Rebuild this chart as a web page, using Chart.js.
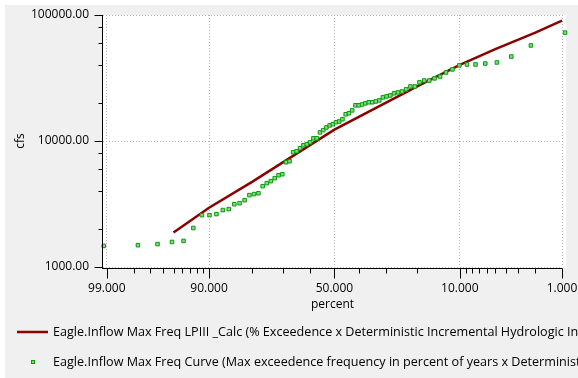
<!DOCTYPE html>
<html><head><meta charset="utf-8">
<script src="https://cdn.jsdelivr.net/npm/chart.js@4.4.1/dist/chart.umd.min.js"></script>
<style>html,body{margin:0;padding:0;background:#fff;}canvas{display:block;}</style>
</head><body>
<canvas id="c" width="578" height="378"></canvas>
<script>
// ---------- data ----------
const SERIES_LABELS = [
  'Eagle.Inflow Max Freq LPIII _Calc (% Exceedence x Deterministic Incremental Hydrologic Inflow)',
  'Eagle.Inflow Max Freq Curve (Max exceedence frequency in percent of years x Deterministic Incremental Hydrologic Inflow)'
];
const X_TITLE = 'percent';
const Y_TITLE = 'cfs';

// computed LPIII curve
const CURVE_PERCENT = [95, 90, 80, 50, 20, 10, 5, 2, 1];
const CURVE_CFS     = [1880, 2950, 4740, 12300, 27000, 40200, 53500, 72500, 90300];

// observed annual maxima (plotting position %, cfs)
const OBS_PERCENT = [
  99.08, 97.77, 96.47, 95.16, 93.85, 92.54, 91.23, 89.92, 88.61, 87.30,
  86.00, 84.69, 83.38, 82.07, 80.76, 79.45, 78.14, 76.83, 75.52, 74.21,
  72.91, 71.60, 70.29, 68.98, 67.67, 66.36, 65.05, 63.74, 62.43, 61.13,
  59.82, 58.51, 57.20, 55.89, 54.58, 53.27, 51.96, 50.65, 49.35, 48.04,
  46.73, 45.42, 44.11, 42.80, 41.49, 40.18, 38.87, 37.57, 36.26, 34.95,
  33.64, 32.33, 31.02, 29.71, 28.40, 27.09, 25.79, 24.48, 23.17, 21.86,
  20.55, 19.24, 17.93, 16.62, 15.31, 14.01, 12.70, 11.39, 10.08, 8.77,
  7.46, 6.15, 4.84, 3.53, 2.23, 0.92
];
const OBS_CFS = [
  1470, 1490, 1520, 1580, 1610, 2040, 2580, 2580, 2630, 2830,
  2880, 3150, 3210, 3390, 3720, 3790, 3850, 4380, 4630, 4800,
  5070, 5350, 5450, 6780, 6910, 8140, 8290, 8760, 9240, 9420,
  9770, 10500, 10500, 11700, 12200, 12800, 13300, 13600, 14100, 14300,
  14900, 16300, 16600, 17500, 19200, 19200, 19500, 19900, 20300, 20300,
  20600, 21000, 22200, 22600, 23000, 23900, 24300, 24700, 25700, 27100,
  27100, 29200, 30200, 30200, 31400, 32500, 35000, 37000, 39800, 40500,
  40500, 41200, 42000, 46800, 57300, 72500
];

// axis ticks
const X_MAJOR = [99, 90, 50, 10, 1];
const X_MAJOR_LABELS = ['99.000', '90.000', '50.000', '10.000', '1.000'];
const X_MINOR = [98, 97, 96, 95, 94, 93, 92, 91, 80, 70, 60, 40, 30, 20, 9, 8, 7, 6, 5, 4, 3, 2];
const X_LEFT_PERCENT = 99.1;
const X_RIGHT_PERCENT = 1;
const Y_MAJOR = [1000, 10000, 100000];
const Y_MAJOR_LABELS = ['1000.00', '10000.00', '100000.00'];
const Y_MINOR = [2000, 4000, 6000, 8000, 20000, 40000, 60000, 80000];

// ---------- normal probability helpers (scale transform) ----------
function probit(p) {
  const a=[-3.969683028665376e+01,2.209460984245205e+02,-2.759285104469687e+02,1.383577518672690e+02,-3.066479806614716e+01,2.506628277459239e+00];
  const b=[-5.447609879822406e+01,1.615858368580409e+02,-1.556989798598866e+02,6.680131188771972e+01,-1.328068155288572e+01];
  const c=[-7.784894002430293e-03,-3.223964580411365e-01,-2.400758277161838e+00,-2.549732539343734e+00,4.374664141464968e+00,2.938163982698783e+00];
  const d=[7.784695709041462e-03,3.224671290700398e-01,2.445134137142996e+00,3.754408661907416e+00];
  const pl = 0.02425, ph = 1 - pl;
  let q, r;
  if (p < pl) { q = Math.sqrt(-2*Math.log(p)); return (((((c[0]*q+c[1])*q+c[2])*q+c[3])*q+c[4])*q+c[5])/((((d[0]*q+d[1])*q+d[2])*q+d[3])*q+1); }
  if (p <= ph) { q = p - 0.5; r = q*q; return (((((a[0]*r+a[1])*r+a[2])*r+a[3])*r+a[4])*r+a[5])*q/(((((b[0]*r+b[1])*r+b[2])*r+b[3])*r+b[4])*r+1); }
  q = Math.sqrt(-2*Math.log(1-p)); return -(((((c[0]*q+c[1])*q+c[2])*q+c[3])*q+c[4])*q+c[5])/((((d[0]*q+d[1])*q+d[2])*q+d[3])*q+1);
}
function normCdf(z) {
  const t = 1/(1+0.3275911*Math.abs(z)/Math.SQRT2);
  const y = 1 - (((((1.061405429*t-1.453152027)*t)+1.421413741)*t-0.284496736)*t+0.254829592)*t*Math.exp(-z*z/2);
  return z >= 0 ? 0.5*(1+y) : 0.5*(1-y);
}
const zOf = pct => probit(1 - pct/100);

// ---------- custom probability (exceedance %) scale ----------
class ProbabilityScale extends Chart.Scale {
  determineDataLimits() {
    this.min = this.options.leftPercent;
    this.max = this.options.rightPercent;
  }
  buildTicks() {
    return X_MAJOR.concat(X_MINOR).sort((p, q) => q - p)
      .map(v => ({ value: v, major: X_MAJOR.includes(v) }));
  }
  configure() {
    super.configure();
    this._uL = zOf(this.min);
    this._uR = zOf(this.max);
  }
  getPixelForValue(v) {
    return this.getPixelForDecimal((zOf(v) - this._uL) / (this._uR - this._uL));
  }
  getValueForPixel(px) {
    const u = this._uL + this.getDecimalForPixel(px) * (this._uR - this._uL);
    return 100 * (1 - normCdf(u));
  }
  getLabelForValue(v) { return String(v); }
}
ProbabilityScale.id = 'probability';
ProbabilityScale.defaults = {};
Chart.register(ProbabilityScale);

// ---------- styling ----------
const FONT = '"Open Sans", "Noto Sans", sans-serif';
const LINE_COLOR = '#8b0000';
const PT_BORDER = '#00a000';
const PT_FILL = '#90d090';
const GRID_COLOR = '#b4b4b4';

Chart.defaults.font.family = FONT;
Chart.defaults.font.size = 12;
Chart.defaults.color = '#000';

const noScalePadding = s => { s.paddingLeft = 0; s.paddingRight = 0; s.paddingTop = 0; s.paddingBottom = 0; };

const panelPlugin = {
  id: 'panel',
  beforeDraw(chart) {
    const ctx = chart.ctx, a = chart.chartArea;
    ctx.save();
    ctx.fillStyle = '#fff';
    ctx.fillRect(0, 0, chart.width, chart.height);
    ctx.fillStyle = '#f0f0f0';
    ctx.fillRect(5, 5, chart.width - 5, chart.height - 5);
    ctx.fillStyle = '#fff';
    ctx.fillRect(a.left, a.top, a.right - a.left + 4, a.bottom - a.top + 1);
    ctx.restore();
  },
  afterDraw(chart) {
    const ctx = chart.ctx, a = chart.chartArea;
    const xs = chart.scales.x, ys = chart.scales.y;
    ctx.save();
    ctx.strokeStyle = '#000';
    ctx.lineWidth = 1;
    ctx.beginPath();
    const ax = a.left - 0.5, ay = a.bottom + 1.5;
    ctx.moveTo(ax, a.top); ctx.lineTo(ax, ay + 0.5);
    ctx.moveTo(ax, ay); ctx.lineTo(a.right + 0.5, ay);
    Y_MAJOR.concat(Y_MINOR).forEach(v => {
      const py = Math.round(ys.getPixelForValue(v)) + 0.5;
      const len = Y_MAJOR.includes(v) ? 8 : 4;
      ctx.moveTo(ax - len, py); ctx.lineTo(ax, py);
    });
    X_MAJOR.concat(X_MINOR).forEach(v => {
      const px = Math.round(xs.getPixelForValue(v)) + 0.5;
      const len = X_MAJOR.includes(v) ? 10 : 5;
      ctx.moveTo(px, ay); ctx.lineTo(px, ay + len);
    });
    ctx.stroke();

    // legend
    ctx.font = '12.6px ' + FONT;
    ctx.fillStyle = '#000';
    ctx.textBaseline = 'alphabetic';
    ctx.textAlign = 'left';
    ctx.strokeStyle = LINE_COLOR;
    ctx.lineWidth = 2.5;
    ctx.beginPath();
    ctx.moveTo(17, 332); ctx.lineTo(48, 332);
    ctx.stroke();
    ctx.fillText(SERIES_LABELS[0], 53, 335.5);
    ctx.fillStyle = PT_FILL;
    ctx.fillRect(31.5, 360.5, 3, 3);
    ctx.strokeStyle = PT_BORDER;
    ctx.lineWidth = 1;
    ctx.strokeRect(31.5, 360.5, 3, 3);
    ctx.fillStyle = '#000';
    ctx.fillText(SERIES_LABELS[1], 53, 365.5);
    ctx.restore();
  }
};

new Chart(document.getElementById('c'), {
  type: 'line',
  data: {
    datasets: [
      {
        label: SERIES_LABELS[0],
        data: CURVE_PERCENT.map((p, i) => ({ x: p, y: CURVE_CFS[i] })),
        borderColor: LINE_COLOR,
        borderWidth: 2.5,
        pointRadius: 0,
        tension: 0,
        fill: false,
        order: 1
      },
      {
        label: SERIES_LABELS[1],
        data: OBS_PERCENT.map((p, i) => ({ x: p, y: OBS_CFS[i] })),
        showLine: false,
        pointStyle: 'rect',
        pointRadius: 2.5,
        backgroundColor: PT_FILL,
        borderColor: PT_BORDER,
        borderWidth: 1,
        clip: false,
        order: 0
      }
    ]
  },
  options: {
    responsive: false,
    animation: false,
    devicePixelRatio: 1,
    events: [],
    layout: { padding: { top: 15, right: 16, left: 0, bottom: 0 } },
    plugins: { legend: { display: false }, tooltip: { enabled: false } },
    scales: {
      x: {
        type: 'probability',
        position: 'bottom',
        leftPercent: X_LEFT_PERCENT,
        rightPercent: X_RIGHT_PERCENT,
        afterFit: s => { s.height = 111; noScalePadding(s); },
        grid: {
          color: c => (c.tick && X_MAJOR.includes(c.tick.value)) ? GRID_COLOR : 'rgba(0,0,0,0)',
          lineWidth: 1,
          drawTicks: false
        },
        border: { display: false, dash: [1, 2] },
        ticks: {
          autoSkip: false,
          maxRotation: 0,
          padding: 14,
          font: { size: 12 },
          callback: v => { const k = X_MAJOR.indexOf(v); return k >= 0 ? X_MAJOR_LABELS[k] : ''; }
        },
        title: { display: true, text: X_TITLE, font: { size: 12 }, padding: { top: 0, bottom: 66 } }
      },
      y: {
        type: 'logarithmic',
        position: 'left',
        min: 1000,
        max: 100000,
        afterFit: s => { s.width = 103; noScalePadding(s); },
        afterBuildTicks: s => {
          s.ticks = Y_MAJOR.concat(Y_MINOR).sort((p, q) => p - q)
            .map(v => ({ value: v, major: Y_MAJOR.includes(v) }));
        },
        grid: {
          color: c => (c.tick && Y_MAJOR.includes(c.tick.value)) ? GRID_COLOR : 'rgba(0,0,0,0)',
          lineWidth: 1,
          drawTicks: false
        },
        border: { display: false, dash: [1, 2] },
        ticks: {
          autoSkip: false,
          padding: 14,
          font: { size: 12 },
          callback: v => { const k = Y_MAJOR.indexOf(v); return k >= 0 ? Y_MAJOR_LABELS[k] : ''; }
        },
        title: { display: true, text: Y_TITLE, font: { size: 12 }, padding: { top: 13, bottom: 0 } }
      }
    }
  },
  plugins: [panelPlugin]
});
</script>
</body></html>
